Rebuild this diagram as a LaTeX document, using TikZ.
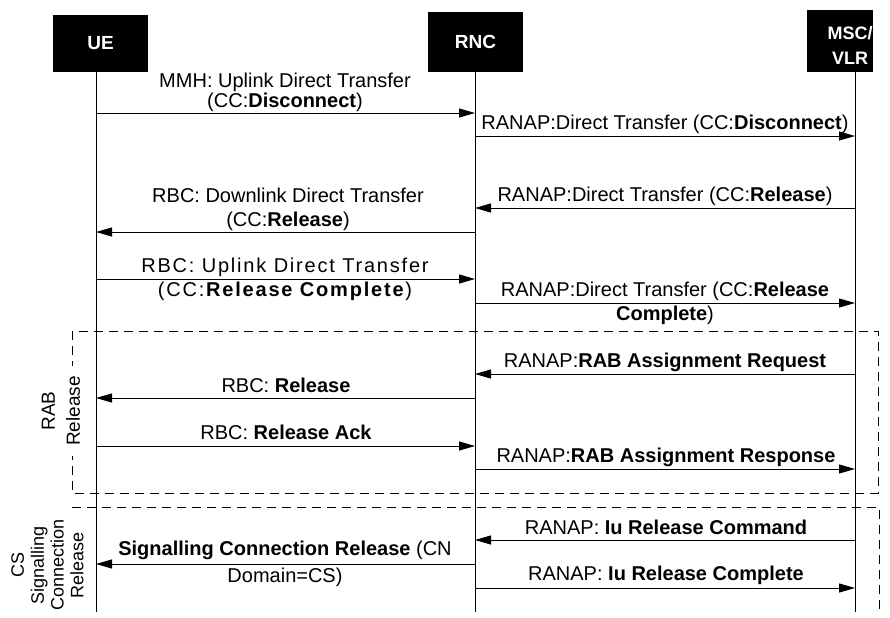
\documentclass[tikz,border=0pt]{standalone}
\usepackage{fontspec}
\setmainfont{Liberation Sans}
\usetikzlibrary{arrows.meta}

\begin{document}
\begin{tikzpicture}[x=0.5pt,y=-0.5pt,
  ent/.style={fill=black,text=white,inner sep=0pt,align=center,font=\bfseries\fontsize{9.5}{11}\selectfont},
  msg/.style={line width=0.5pt,-{Triangle[length=8pt,width=4.5pt]}},
  lbl/.style={align=center,inner sep=0pt,font=\fontsize{10}{12}\selectfont},
  grp/.style={line width=0.5pt,dash pattern=on 4.5pt off 3pt},
  side/.style={rotate=90,fill=white,align=center,inner ysep=1pt}]
\useasboundingbox (0,0) rectangle (890,617);
\node[ent,minimum width=47.5pt,minimum height=28.5pt] (uebox) at (100.5,43.5) {UE};
\node[ent,minimum width=47.5pt,minimum height=30pt] (rncbox) at (475.5,42) {RNC};
\node[ent,minimum width=33pt,minimum height=31pt] (mscbox) at (840,41) {};
\node[ent,font=\bfseries\fontsize{9}{12.5}\selectfont] (msctxt) at (850,45) {MSC/\\VLR};
\coordinate (ue) at (96,72);
\coordinate (rnc) at (475,72);
\coordinate (msc) at (855,72);
\foreach \l in {ue,rnc,msc} \draw[line width=0.5pt] (\l) -- (\l |- 0,612);
\draw[grp] (72,331) rectangle (878,493);
\draw[grp] (72,612) |- (879,507) -- (879,612);
\node[side,inner xsep=5pt,font=\fontsize{9.5}{12.5}\selectfont] (rab) at (61,411) {RAB\\Release};
\node[side,inner xsep=4.75pt,font=\fontsize{9}{9.9}\selectfont] (cs) at (47.5,565) {CS\\Signalling\\Connection\\Release};
\foreach \y/\a/\b in {113/ue/rnc,136/rnc/msc,208/msc/rnc,232/rnc/ue,279/ue/rnc,303/rnc/msc,374/msc/rnc,398/rnc/ue,446/ue/rnc,469/rnc/msc,540/msc/rnc,564/rnc/ue,588/rnc/msc}
  \draw[msg] (\a |- 0,\y) -- (\b |- 0,\y);
\node[lbl,font=\fontsize{10}{10}\selectfont] (m1) at (285,92) {MMH: Uplink Direct Transfer\\(CC:\textbf{Disconnect})};
\node[lbl] (m2) at (665,124) {RANAP:Direct Transfer (CC:\textbf{Disconnect})};
\node[lbl] (m3) at (665,196) {RANAP:Direct Transfer (CC:\textbf{Release})};
\node[lbl] (m4) at (288,209) {RBC: Downlink Direct Transfer\\(CC:\textbf{Release})};
\node[lbl,font=\fontsize{10}{12}\selectfont\addfontfeatures{LetterSpace=9}] (m5) at (285,279) {RBC: Uplink Direct Transfer\\(CC:\textbf{Release Complete})};
\node[lbl] (m6) at (665,303) {RANAP:Direct Transfer (CC:\textbf{Release}\\\textbf{Complete})};
\node[lbl] (m7) at (665,362) {RANAP:\textbf{RAB Assignment Request}};
\node[lbl] (m8) at (286,385) {RBC: \textbf{Release}};
\node[lbl] (m9) at (286,432) {RBC: \textbf{Release Ack}};
\node[lbl] (m10) at (666,457) {RANAP:\textbf{RAB Assignment Response}};
\node[lbl] (m11) at (666,527) {RANAP: \textbf{Iu Release Command}};
\node[lbl,font=\fontsize{10}{13.5}\selectfont] (m12) at (285,564) {\textbf{Signalling Connection Release} (CN\\Domain=CS)};
\node[lbl] (m13) at (666,575) {RANAP: \textbf{Iu Release Complete}};
\end{tikzpicture}
\end{document}
